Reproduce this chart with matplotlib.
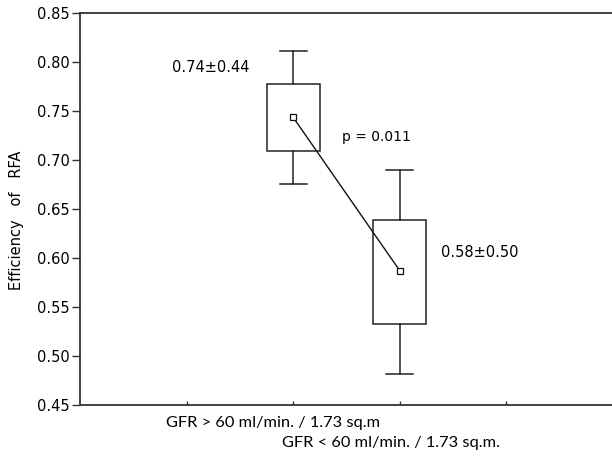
import numpy as np
import matplotlib.pyplot as plt

# group data
groups = ["GFR > 60 ml/min. / 1.73 sq.m", "GFR < 60 ml/min. / 1.73 sq.m."]
pos = np.array([2, 3])
means = np.array([0.7435, 0.587])
box_lo = np.array([0.709, 0.533])
box_hi = np.array([0.778, 0.639])
whis_lo = np.array([0.6755, 0.482])
whis_hi = np.array([0.8115, 0.690])
notes = ["0.74±0.44", "0.58±0.50"]
pval = "p = 0.011"

plt.rcParams['font.family'] = ['DejaVu Sans']

fig = plt.figure(figsize=(6.12, 4.57), dpi=100)
ax = fig.add_axes([80/612, 52/457, 533/612, 392/457])

bw = 0.5
cw = 0.25
for i in range(2):
    x = pos[i]
    ax.add_patch(plt.Rectangle((x - bw/2, box_lo[i]), bw, box_hi[i] - box_lo[i],
                               fill=False, edgecolor='#222222', lw=1.1, zorder=2))
    ax.plot([x, x], [box_hi[i], whis_hi[i]], color='#222222', lw=1.1)
    ax.plot([x, x], [box_lo[i], whis_lo[i]], color='#222222', lw=1.1)
    ax.plot([x - cw/2, x + cw/2], [whis_hi[i]] * 2, color='#222222', lw=1.1)
    ax.plot([x - cw/2, x + cw/2], [whis_lo[i]] * 2, color='#222222', lw=1.1)

ax.plot(pos, means, color='#111111', lw=1.0, zorder=3)
ax.plot(pos, means, ls='none', marker='s', ms=5, mfc='white', mec='#111111', mew=0.9, zorder=4)

ax.text(1.23, 0.794, notes[0], ha='center', va='center', fontsize=10.5)
ax.text(3.39, 0.606, notes[1], ha='left', va='center', fontsize=10.5)
ax.text(2.46, 0.7235, pval, ha='left', va='center', fontsize=10)

ax.set_xlim(0, 5)
ax.set_ylim(0.45, 0.85)
ax.set_yticks(np.arange(0.45, 0.851, 0.05))
ax.set_yticklabels(["%.2f" % v for v in np.arange(0.45, 0.851, 0.05)], fontsize=10.5)
ax.set_xticks([1, 2, 3, 4])
ax.set_xticklabels([])
ax.tick_params(axis='x', direction='in', length=3, width=1, color='#333333')
ax.tick_params(axis='y', direction='out', length=6, width=1, color='#333333', pad=1.5)
ax.tick_params(axis='y', which='both', right=True, labelright=False)

# staggered category labels under the axis
ax.text(pos[0] - 0.19, -0.045, groups[0], transform=ax.get_xaxis_transform(),
        ha='center', va='center', fontsize=11.8, family='Lato')
ax.text(pos[1] - 0.08, -0.098, groups[1], transform=ax.get_xaxis_transform(),
        ha='center', va='center', fontsize=11.8, family='Lato')

ax.set_ylabel("Efficiency   of   RFA", fontsize=10.5)
ax.yaxis.set_label_coords(-0.106, 0.472)

for s in ['left', 'top', 'bottom']:
    ax.spines[s].set_color('#333333')
    ax.spines[s].set_linewidth(1.3)
ax.spines['right'].set_visible(False)

fig.savefig('out.png', dpi=100)
